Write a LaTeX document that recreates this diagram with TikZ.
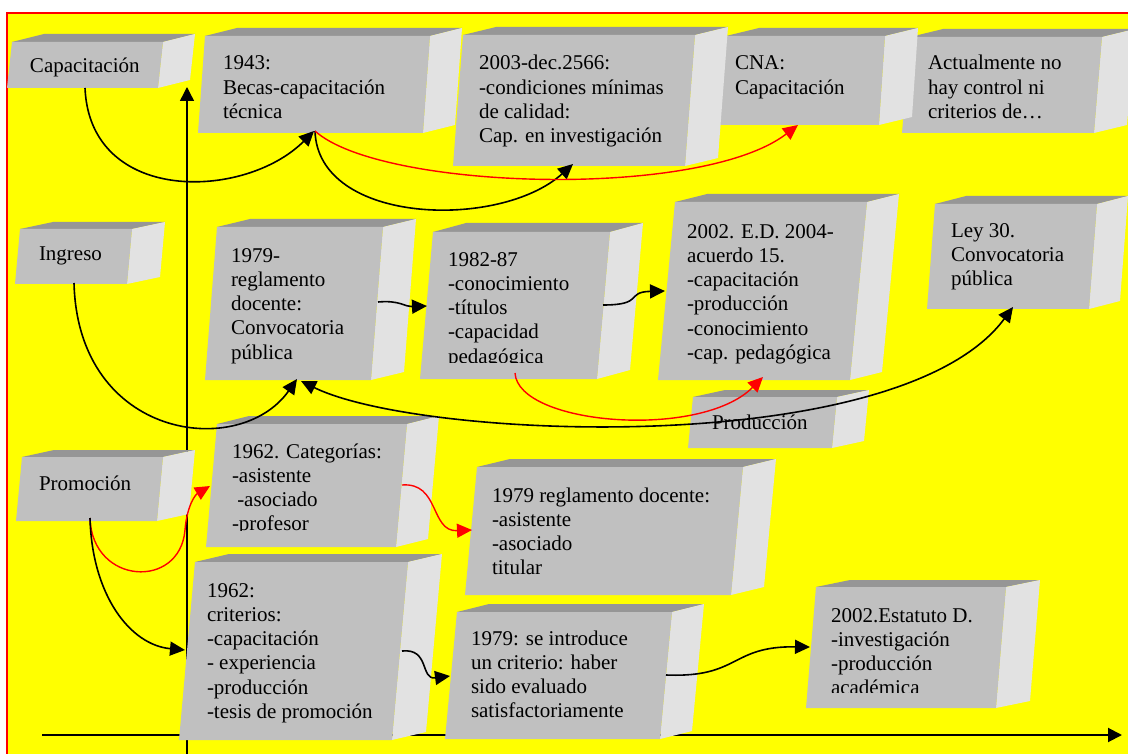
\documentclass[tikz,border=0pt]{standalone}
\usepackage{fontspec}
\setmainfont{Liberation Serif}
\usetikzlibrary{arrows.meta}
\definecolor{bgyellow}{HTML}{FFFF00}
\definecolor{frontgray}{HTML}{C0C0C0}
\definecolor{topgray}{HTML}{969696}
\definecolor{sidegray}{HTML}{E2E2E2}
\definecolor{framered}{HTML}{FF0000}
% #1 x1, #2 y1 (front top), #3 x2, #4 y2 (front bottom), #5 skew, #6 depth x, #7 depth up
\newcommand\cubebox[7]{%
  \fill[topgray] (#1,#2) -- ({#1+#6},{#2-#7}) -- ({#3+#6},{#2-#7}) -- (#3,#2) -- cycle;
  \fill[sidegray] (#3,#2) -- ({#3+#6},{#2-#7}) -- ({#3-#5+#6},{#4-#7}) -- ({#3-#5},#4) -- cycle;
  \fill[frontgray] (#1,#2) -- (#3,#2) -- ({#3-#5},#4) -- ({#1-#5},#4) -- cycle;
}
\newcommand\tstrut{\rule{0pt}{16pt}}
\tikzset{
  boxtext/.style={anchor=north west, inner sep=0pt, outer sep=0pt, align=left,
    font=\fontsize{21}{24.3}\selectfont, text=black},
  blk/.style={draw=black, line width=1.6pt, -{Triangle[length=15pt,width=14pt]}},
  blkboth/.style={draw=black, line width=1.6pt, {Triangle[length=15pt,width=14pt]}-{Triangle[length=15pt,width=14pt]}},
  redc/.style={draw=framered, line width=1.4pt, -{Triangle[length=15pt,width=14pt]}},
  axisv/.style={draw=black, line width=1.4pt, -{Triangle[length=14pt,width=14pt]}},
  axish/.style={draw=black, line width=2pt, -{Triangle[length=14pt,width=14pt]}}
}
\begin{document}
\begin{tikzpicture}[x=1pt,y=-1pt]
\useasboundingbox (0,0) rectangle (1128,754);
\clip (0,0) rectangle (1128,754);
\fill[white] (0,0) rectangle (1128,754);
\fill[bgyellow] (7,13) rectangle (1140,770);
\draw[framered, line width=1.5pt] (7,770) -- (7,13) -- (1140,13);

% axes coordinates
\coordinate (vax0) at (187,754);
\coordinate (vax1) at (187,87);
\coordinate (hax0) at (42,735);
\coordinate (hax1) at (1122,735);
\draw[axisv] (vax0) -- (vax1);
\draw[axish] (hax0) -- (hax1);

% row 1 boxes (right to left)
\cubebox{910}{37}{1102}{133}{8}{33}{8}
\cubebox{726}{36}{885}{125}{6}{33}{8}
\cubebox{463}{35}{695}{166}{10}{33}{8}
\cubebox{205}{36}{430}{133}{7}{32}{8}
\cubebox{12}{42}{163}{88}{5}{32}{8}
% row 2 boxes
\cubebox{935}{204}{1097}{309}{8}{31}{8}
\cubebox{675}{202}{867}{380}{17}{32}{8}
\cubebox{433}{232}{610}{379}{13}{33}{9}
\cubebox{217}{227}{383}{380}{12}{33}{8}
\cubebox{20}{229}{132}{284}{5}{33}{7}
\cubebox{693}{397}{837}{448}{5}{32}{7}
% row 3 boxes
\cubebox{477}{467}{743}{595}{12}{33}{8}
\cubebox{217}{424}{407}{547}{11}{32}{8}
\cubebox{22}{457}{163}{521}{6}{32}{7}
% row 4 boxes
\cubebox{816}{587}{1006}{708}{10}{34}{7}
\cubebox{457}{612}{672}{739}{12}{32}{8}
\cubebox{195}{562}{408}{740}{16}{34}{8}

% texts (node placed 16pt above first baseline)
\node[boxtext] (tcap) at (30,57) {\tstrut Capacitación};
\node[boxtext] (t1943) at (223,54) {\tstrut 1943:\\Becas-capacitación\\técnica};
\node[boxtext] (t2003) at (479,54) {\tstrut 2003-dec.2566:\\-condiciones mínimas\\de calidad:\\Cap. en investigación};
\node[boxtext] (tcna) at (735,54) {\tstrut CNA:\\Capacitación};
\node[boxtext] (tact) at (928,54) {\tstrut Actualmente no\\hay control ni\\criterios de…};
\node[boxtext] (ting) at (39,245) {\tstrut Ingreso};
\node[boxtext] (t1979a) at (231,246) {\tstrut 1979-\\reglamento\\docente:\\Convocatoria\\pública};
\begin{scope}
\clip (420,225) rectangle (620,362);
\node[boxtext] (t1982) at (448,250) {\tstrut 1982-87\\-conocimiento\\-títulos\\-capacidad\\pedagógica};
\end{scope}
\node[boxtext] (ted) at (687,222) {\tstrut 2002. E.D. 2004-\\acuerdo 15.\\-capacitación\\-producción\\-conocimiento\\-cap. pedagógica};
\node[boxtext] (tley) at (951,221) {\tstrut Ley 30.\\Convocatoria\\pública};
\node[boxtext] (tprod) at (712,413) {\tstrut Producción};
\node[boxtext] (tprom) at (39,474) {\tstrut Promoción};
\begin{scope}
\clip (200,420) rectangle (410,530);
\node[boxtext] (tcat) at (232,442) {\tstrut 1962. Categorías:\\-asistente\\\hspace*{5.25pt}-asociado\\-profesor};
\end{scope}
\node[boxtext] (treg) at (492,486) {\tstrut 1979 reglamento docente:\\-asistente\\-asociado\\titular};
\node[boxtext] (tcrit) at (207,581) {\tstrut 1962:\\criterios:\\-capacitación\\- experiencia\\-producción\\-tesis de promoción};
\node[boxtext] (tint) at (471,629) {\tstrut 1979: se introduce\\un criterio: haber\\sido evaluado\\satisfactoriamente};
\begin{scope}
\clip (800,580) rectangle (1010,692);
\node[boxtext] (test) at (831,606) {\tstrut 2002.Estatuto D.\\-investigación\\-producción\\académica};
\end{scope}

% connector end points
\coordinate (capA) at (85,88);
\coordinate (b43) at (314,131);
\coordinate (b43s) at (315,131);
\coordinate (b03) at (573,164);
\coordinate (cna) at (798,125);
\coordinate (ingA) at (74,283);
\coordinate (b79a) at (297,379);
\coordinate (b79b) at (301,381);
\coordinate (b79r) at (378,302);
\coordinate (b82l) at (427,306);
\coordinate (b82r) at (603,305);
\coordinate (bEDl) at (665,291);
\coordinate (b82b) at (515,373);
\coordinate (bEDb) at (763,377);
\coordinate (ley) at (1013,307);
\coordinate (promA) at (90,518);
\coordinate (cat) at (210,486);
\coordinate (crit) at (185,650);
\coordinate (catr) at (402,485);
\coordinate (regl) at (472,530);
\coordinate (critr) at (402,651);
\coordinate (intl) at (450,676);
\coordinate (intr) at (666,675);
\coordinate (est) at (810,647);

% connectors
\draw[blk] (capA) .. controls (90,205) and (245,200) .. (b43);
\draw[blk] (b43s) .. controls (318,225) and (500,230) .. (b03);
\draw[redc] (b43s) .. controls (380,190) and (700,200) .. (cna);
\draw[blk] (ingA) .. controls (78,440) and (240,460) .. (b79a);
\draw[blkboth] (b79b) .. controls (420,440) and (900,460) .. (ley);
\draw[blk] (b79r) .. controls (400,300) and (405,307) .. (b82l);
\draw[blk] (b82r) .. controls (645,305) and (625,292) .. (bEDl);
\draw[redc] (b82b) .. controls (518,425) and (700,440) .. (bEDb);
\draw[redc] (promA) .. controls (92,585) and (180,590) .. (185,530) .. controls (187,506) and (195,495) .. (cat);
\draw[blk] (promA) .. controls (92,595) and (130,645) .. (crit);
\draw[redc] (catr) .. controls (440,482) and (430,532) .. (regl);
\draw[blk] (critr) .. controls (430,648) and (420,680) .. (intl);
\draw[blk] (intr) .. controls (740,678) and (730,646) .. (est);
\end{tikzpicture}
\end{document}
